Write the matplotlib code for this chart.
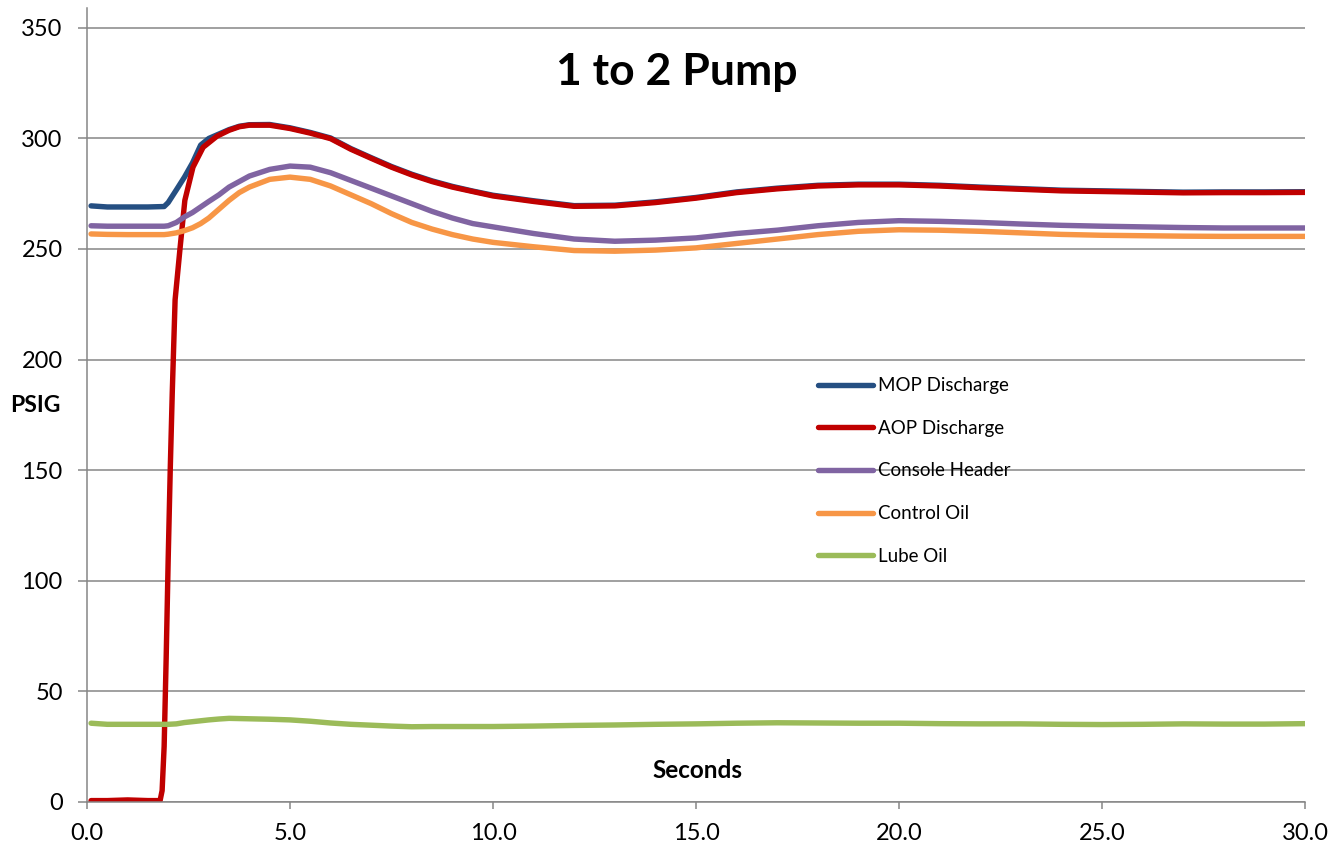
import matplotlib
matplotlib.use("Agg")
import matplotlib.pyplot as plt

plt.rcParams['font.family'] = ['Lato', 'DejaVu Sans']

# time points (s)
t = [0.1, 0.5, 1.0, 1.5, 1.9, 2.0, 2.2, 2.4, 2.6, 2.8, 3.0, 3.25, 3.5, 3.75, 4.0,
     4.5, 5.0, 5.5, 6.0, 6.5, 7.0, 7.5, 8.0, 8.5, 9.0, 9.5, 10.0, 11, 12, 13, 14,
     15, 16, 17, 18, 19, 20, 21, 22, 23, 24, 25, 26, 27, 28, 29, 30]

mop = [269.5, 269, 269, 269, 269.2, 271, 276.7, 282.5, 289, 297, 300, 302, 304,
       305.5, 306.2, 306.3, 304.8, 302.7, 300.2, 295.4, 291.3, 287.3, 283.8,
       280.8, 278.3, 276.2, 274.3, 271.8, 269.6, 269.8, 271.3, 273.3, 275.8,
       277.5, 278.8, 279.3, 279.3, 278.8, 278, 277.3, 276.6, 276.3, 276,
       275.7, 275.8, 275.8, 275.9]

t_aop = [0.1, 0.5, 1.0, 1.5, 1.8, 1.85, 1.9, 1.95, 2.0, 2.05, 2.1, 2.17, 2.29,
         2.41, 2.61, 2.86, 3.2, 3.5, 3.75, 4.0, 4.5, 5.0, 5.5, 6.0, 6.5, 7.0,
         7.5, 8.0, 8.5, 9.0, 9.5, 10.0, 11, 12, 13, 14, 15, 16, 17, 18, 19, 20,
         21, 22, 23, 24, 25, 26, 27, 28, 29, 30]

aop = [0.5, 0.5, 0.8, 0.5, 0.5, 5, 25, 65, 110, 150, 185, 227, 250, 272, 287,
       296, 301, 303.7, 305.3, 306, 306, 304.5, 302.4, 299.9, 295.1, 291,
       287, 283.5, 280.5, 278, 276, 274, 271.5, 269.3, 269.5, 271, 273, 275.5,
       277.2, 278.5, 279, 279, 278.5, 277.7, 277, 276.3, 276, 275.7, 275.4,
       275.5, 275.5, 275.6]

console = [260.5, 260.3, 260.3, 260.3, 260.3, 260.5, 262, 264.5, 266.5, 269,
           271.5, 274.5, 278, 280.5, 283, 286, 287.5, 287, 284.5, 281, 277.5,
           274, 270.5, 267, 264, 261.5, 260, 257, 254.5, 253.5, 254, 255, 257,
           258.5, 260.5, 262, 262.8, 262.5, 262, 261.3, 260.7, 260.3, 260,
           259.7, 259.5, 259.5, 259.5]

control = [256.8, 256.6, 256.5, 256.5, 256.5, 256.7, 257.3, 258.3, 259.6,
           261.5, 264, 268, 272, 275.5, 278, 281.5, 282.5, 281.5, 278.5, 274.5,
           270.5, 266, 262, 259, 256.5, 254.5, 253, 251, 249.3, 249, 249.5,
           250.5, 252.5, 254.5, 256.5, 258, 258.7, 258.5, 258, 257.3, 256.6,
           256.2, 256, 255.8, 255.7, 255.7, 255.7]

lube = [35.5, 35, 35, 35, 35, 35, 35.2, 35.8, 36.2, 36.6, 37, 37.4, 37.7,
        37.6, 37.5, 37.3, 37, 36.4, 35.6, 35, 34.6, 34.2, 33.9, 34, 34, 34,
        34, 34.2, 34.5, 34.7, 35, 35.2, 35.5, 35.7, 35.6, 35.5, 35.5, 35.3,
        35.2, 35.2, 35, 34.9, 35, 35.2, 35.1, 35.1, 35.3]

grid_col = '#868686'

fig = plt.figure(figsize=(13.43, 8.5), dpi=100)
ax = fig.add_axes([87 / 1343, 1 - 801.7 / 850, 1218 / 1343, 793.7 / 850])

lw = 3.9
ax.plot(t, mop, color='#254F82', lw=lw, label='MOP Discharge', solid_capstyle='round')
ax.plot(t_aop, aop, color='#C00000', lw=lw, label='AOP Discharge', solid_capstyle='round')
ax.plot(t, console, color='#8064A2', lw=lw, label='Console Header', solid_capstyle='round')
ax.plot(t, control, color='#F79646', lw=lw, label='Control Oil', solid_capstyle='round')
ax.plot(t, lube, color='#9BBB59', lw=lw, label='Lube Oil', solid_capstyle='round')

ax.set_xlim(0, 30)
ax.set_ylim(0, 359)
ax.set_xticks([0, 5, 10, 15, 20, 25, 30])
ax.set_xticklabels(['0.0', '5.0', '10.0', '15.0', '20.0', '25.0', '30.0'])
ax.set_yticks(range(0, 351, 50))

ax.yaxis.grid(True, color=grid_col, lw=1.1)
ax.set_axisbelow(True)
for s in ['top', 'right']:
    ax.spines[s].set_visible(False)
for s in ['left', 'bottom']:
    ax.spines[s].set_color(grid_col)
    ax.spines[s].set_linewidth(1.1)
ax.tick_params(axis='x', length=5, width=1.1, color=grid_col, pad=10, labelsize=17)
ax.tick_params(axis='y', length=6.5, width=1.1, color=grid_col, pad=11, labelsize=17)

fig.text(677 / 1343, 1 - 72 / 850, '1 to 2 Pump', ha='center', va='center',
         fontsize=32, fontweight='bold')
fig.text(697 / 1343, 1 - 770 / 850, 'Seconds', ha='center', va='center',
         fontsize=17.5, fontweight='bold')
fig.text(35 / 1343, 1 - 405 / 850, 'PSIG', ha='center', va='center',
         fontsize=16.5, fontweight='bold')

ax.legend(loc='upper left', bbox_to_anchor=(0.6, 0.535), frameon=False,
          fontsize=13.5, handlelength=2.95, handletextpad=0.25, labelspacing=1.37,
          borderaxespad=0, borderpad=0)

fig.savefig('out.png', dpi=100)
